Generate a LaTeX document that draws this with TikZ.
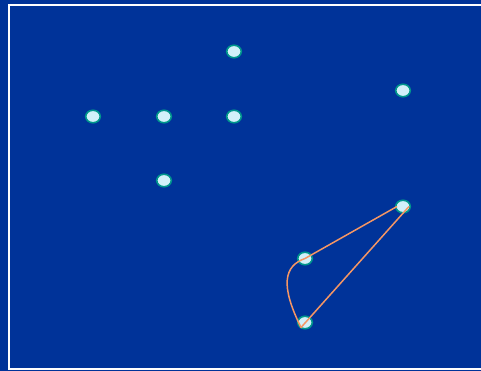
\documentclass[tikz,border=0pt]{standalone}
\usetikzlibrary{shapes.geometric}
\definecolor{bg}{RGB}{0,51,153}
\definecolor{dotfill}{RGB}{210,240,250}
\definecolor{dotline}{RGB}{0,150,140}
\definecolor{linkc}{RGB}{245,150,100}
\begin{document}
\begin{tikzpicture}[x=1pt,y=-1pt,
  dot/.style={ellipse, draw=dotline, line width=1.6pt, fill=dotfill, minimum width=14.5pt, minimum height=12.5pt, inner sep=0pt},
  link/.style={draw=linkc, line width=1.5pt}]
\fill[bg] (0,0) rectangle (481,371);
\useasboundingbox (0,0) rectangle (481,371);
\draw[white, line width=1.5pt] (490,5) -- (9,5) -- (9,369) -- (490,369);
\node[dot] (a) at (234,51.5) {};
\node[dot] (b) at (93,116.5) {};
\node[dot] (c) at (164,116.5) {};
\node[dot] (d) at (234,116.5) {};
\node[dot] (e) at (403,90.5) {};
\node[dot] (f) at (164,180.5) {};
\node[dot] (g) at (403,206.5) {};
\node[dot] (h) at (305,258.5) {};
\node[dot] (i) at (305,322.5) {};
\draw[link, line join=round] ([xshift=6pt]g.center) -- ([xshift=-4pt,yshift=-5pt]i.center)
  .. controls (280,285) and (284,266) .. (h.center) -- ([xshift=-6pt]g.center);
\end{tikzpicture}
\end{document}
